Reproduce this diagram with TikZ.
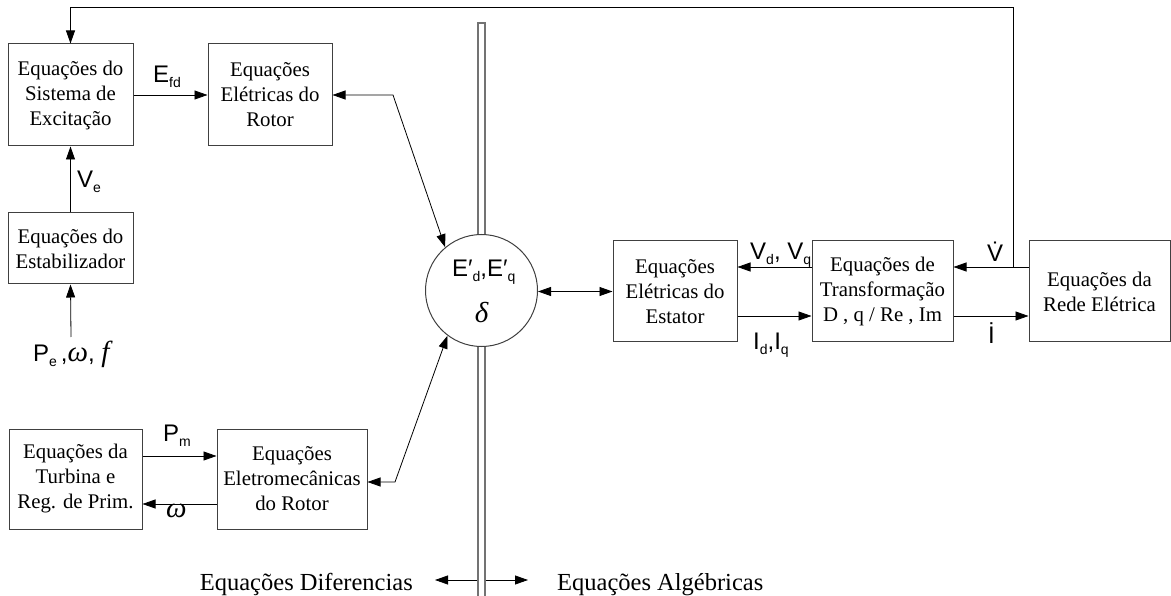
\documentclass[tikz,border=0pt]{standalone}
\usepackage{fontspec}
\setmainfont{Liberation Serif}
\newfontfamily\labfont{Liberation Sans}
\newfontfamily\grk{Liberation Serif}
\usetikzlibrary{arrows.meta}
\newcommand\sbs[1]{\raisebox{-5pt}{\fontsize{14}{14}\selectfont #1}}
\newcommand\gk[1]{{\grk\itshape\fontsize{29}{29}\selectfont #1}}
\begin{document}
\begin{tikzpicture}[x=1pt,y=-1pt,
 blk/.style={draw=black!75, line width=1pt, fill=white, inner sep=0pt, align=center, font=\fontsize{20.8}{25}\selectfont},
 con/.style={line width=0.8pt, -{Triangle[length=13pt,width=9pt]}},
 dcon/.style={line width=0.8pt, {Triangle[length=13pt,width=9pt]}-{Triangle[length=13pt,width=9pt]}},
 lab/.style={anchor=base west, inner sep=0pt, font=\labfont\fontsize{24}{24}\selectfont},
 txt/.style={inner sep=0pt, font=\fontsize{24.5}{25}\selectfont}]
\useasboundingbox (0,0) rectangle (1171,596);

% vertical separator bar
\node[draw=black!55, line width=1.2pt, fill=white, minimum width=7pt, minimum height=580pt, inner sep=0pt] (bar) at (481.5,313) {};

% blocks
\node[blk, minimum width=125pt, minimum height=102pt] (exc) at (70.5,95) {Equações do\\Sistema de\\Excitação};
\node[blk, minimum width=124pt, minimum height=102pt] (rot) at (270,95) {Equações\\Elétricas do\\Rotor};
\node[blk, minimum width=125pt, minimum height=71pt] (est) at (70.5,248.5) {Equações do\\Estabilizador};
\node[blk, minimum width=133pt, minimum height=100pt] (tur) at (75.5,479) {Equações da\\Turbina e\\Reg. de Prim.};
\node[blk, minimum width=150pt, minimum height=100pt] (emc) at (292,479) {Equações\\Eletromecânicas\\do Rotor};
\node[draw=black!75, line width=1pt, fill=white, circle, minimum size=112pt, inner sep=0pt] (c) at (481.5,290.5) {};
\node[blk, minimum width=124pt, minimum height=101pt] (sta) at (675,291.5) {Equações\\Elétricas do\\Estator};
\node[blk, minimum width=141pt, minimum height=101pt] (tra) at (882.5,291.5) {Equações de\\Transformação\\D , q / Re , Im};
\node[blk, minimum width=141pt, minimum height=101pt] (red) at (1099.5,291.5) {Equações da\\Rede Elétrica};

% circle content
\node[lab] (eq) at (452,277) {E′\sbs{d},E′\sbs{q}};
\node[anchor=base, inner sep=0pt] (dl) at (481.5,323) {\gk{δ}};

% helper coordinates
\coordinate (k1) at (393,95);
\coordinate (k2) at (395,482);
\coordinate (ypm) at (0,456);
\coordinate (yw) at (0,504);
\coordinate (yv) at (0,267);
\coordinate (yi) at (0,316);
\coordinate (fb) at (1013,267);
\coordinate (fbt) at (1013,7);
\coordinate (pin) at (71,337);
\coordinate (yb) at (0,580);
\coordinate (al) at (435,580);
\coordinate (ar) at (528,580);

% connectors
\draw[con] (fb) -- (fbt) -| (exc.north);
\draw[con] (exc.east) -- (rot.west);
\draw[con] (est.north) -- (exc.south);
\draw[con] (pin) -- (est.south);
\draw[dcon] (rot.east) -- (k1) -- (c.130);
\draw[dcon] (emc.east |- k2) -- (k2) -- (c.233);
\draw[con] (tur.east |- ypm) -- (emc.west |- ypm);
\draw[con] (emc.west |- yw) -- (tur.east |- yw);
\draw[dcon] (c.east |- sta.west) -- (sta.west);
\draw[con] (tra.west |- yv) -- (sta.east |- yv);
\draw[con] (sta.east |- yi) -- (tra.west |- yi);
\draw[con] (red.west |- yv) -- (tra.east |- yv);
\draw[con] (tra.east |- yi) -- (red.west |- yi);
\draw[con] (bar.west |- yb) -- (al);
\draw[con] (bar.east |- yb) -- (ar);

% labels
\node[lab] (lefd) at (153,83) {E\sbs{fd}};
\node[lab] (lve) at (77,188) {V\sbs{e}};
\node[lab] (lpe) at (33,362) {P\sbs{e}\,,\gk{ω}, \gk{f}};
\node[lab] (lpm) at (163,441) {P\sbs{m}};
\node[lab] (lw) at (166,517) {\gk{ω}};
\node[lab] (lvd) at (750,260) {V\sbs{d}, V\sbs{q}};
\node[lab] (lid) at (753,349) {I\sbs{d},I\sbs{q}};
\node[lab] (lvdot) at (987,262) {\.V};
\node[lab] (lidot) at (988,343) {\.I};
\node[txt, anchor=base east] (tdif) at (413,590) {Equações Diferencias};
\node[txt, anchor=base west] (talg) at (557,590) {Equações Algébricas};
\end{tikzpicture}
\end{document}
